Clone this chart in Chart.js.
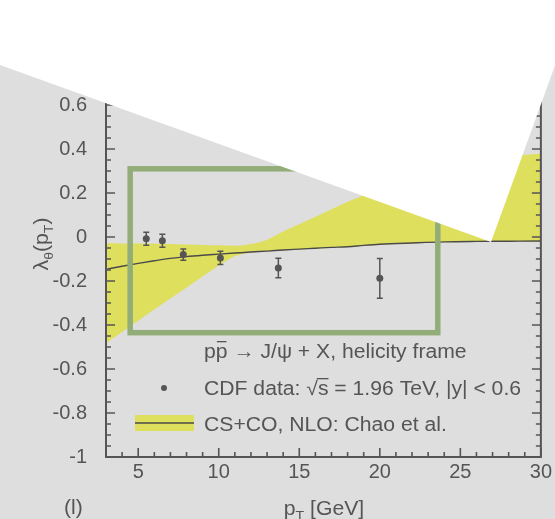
<!DOCTYPE html>
<html>
<head>
<meta charset="utf-8">
<script src="https://cdn.jsdelivr.net/npm/chart.js@4.4.1/dist/chart.umd.min.js"></script>
<style>
  html, body { margin: 0; padding: 0; background: #dedede; }
  canvas { display: block; }
</style>
</head>
<body>
<canvas id="myChart" width="555" height="519"></canvas>
<script>
// theory band (CS+CO, NLO: Chao et al.) sampled on a common pT grid
const bandX    = [3, 4, 5, 6, 7, 8, 9, 10, 11, 12, 13, 14, 15, 16, 17, 18, 19, 20, 22, 24, 26, 28, 30];
const curveY   = [-0.147, -0.133, -0.12, -0.108, -0.097, -0.089, -0.083, -0.078, -0.073, -0.068, -0.064, -0.059,
                  -0.055, -0.051, -0.047, -0.044, -0.038, -0.033, -0.027, -0.022, -0.02, -0.019, -0.018];
const bandLow  = [-0.483, -0.432, -0.381, -0.33, -0.28, -0.23, -0.18, -0.13, -0.088, -0.07, -0.066, -0.061,
                  -0.057, -0.053, -0.049, -0.046, -0.04, -0.035, -0.029, -0.024, -0.022, -0.021, -0.02];
const bandHigh = [-0.028, -0.029, -0.03, -0.031, -0.032, -0.034, -0.036, -0.038, -0.04, -0.032, -0.012, 0.025,
                  0.058, 0.092, 0.126, 0.16, 0.19, 0.22, 0.27, 0.31, 0.34, 0.365, 0.38];

// CDF data points
const cdfX   = [5.5, 6.5, 7.8, 10.1, 13.7, 20.0];
const cdfY   = [-0.008, -0.017, -0.08, -0.095, -0.141, -0.188];
const cdfErr = [0.03, 0.03, 0.026, 0.03, 0.044, 0.09];

const xTicks = [5, 10, 15, 20, 25, 30];
const yTicks = [-1, -0.8, -0.6, -0.4, -0.2, 0, 0.2, 0.4, 0.6];

// highlighted region (green frame), in data units
const boxX = [4.5, 23.6];
const boxY = [-0.435, 0.31];

const FONT = '"Liberation Sans", Arial, Helvetica, sans-serif';
const INK = '#555555';
const YELLOW = '#dfdf5e';
const GREEN = '#93ad79';
const BG = '#dedede';
const SX = 1.085; // text in the figure is slightly wide

const pts = (xs, ys) => xs.map((x, i) => ({x: x, y: ys[i]}));

function textWidth(ctx, parts) {
  let w = 0;
  for (const p of parts) {
    ctx.font = p.size + 'px ' + FONT;
    w += ctx.measureText(p.t).width;
  }
  return w;
}

// draws a run of text pieces (subscripts, overlines) with a horizontal stretch
function drawRuns(ctx, x, y, parts) {
  ctx.save();
  ctx.translate(x, y);
  ctx.scale(SX, 1);
  let cx = 0;
  for (const p of parts) {
    ctx.font = p.size + 'px ' + FONT;
    const w = ctx.measureText(p.t).width;
    ctx.fillText(p.t, cx, p.dy || 0);
    if (p.bar) ctx.fillRect(cx + p.bar[0], p.bar[1], w - p.bar[0] + (p.bar[2] || 0), 1.3);
    cx += w;
  }
  ctx.restore();
}

const decor = {
  id: 'decor',
  beforeDraw(chart) {
    const ctx = chart.ctx;
    ctx.save();
    ctx.fillStyle = BG;
    ctx.fillRect(0, 0, chart.width, chart.height);
    ctx.restore();
  },
  afterDatasetsDraw(chart) {
    const ctx = chart.ctx;
    const xs = chart.scales.x, ys = chart.scales.y;
    const a = chart.chartArea;
    ctx.save();

    // error bars
    ctx.strokeStyle = INK;
    ctx.lineWidth = 1.5;
    cdfX.forEach((x, i) => {
      const px = xs.getPixelForValue(x);
      const y1 = ys.getPixelForValue(cdfY[i] + cdfErr[i]);
      const y2 = ys.getPixelForValue(cdfY[i] - cdfErr[i]);
      ctx.beginPath();
      ctx.moveTo(px, y1); ctx.lineTo(px, y2);
      ctx.moveTo(px - 3, y1); ctx.lineTo(px + 3, y1);
      ctx.moveTo(px - 3, y2); ctx.lineTo(px + 3, y2);
      ctx.stroke();
    });

    // frame
    ctx.lineWidth = 2;
    ctx.beginPath();
    ctx.moveTo(a.left, a.top); ctx.lineTo(a.left, a.bottom);
    ctx.lineTo(a.right, a.bottom); ctx.lineTo(a.right, a.top);
    ctx.stroke();

    // inward ticks
    ctx.lineWidth = 1.6;
    ctx.beginPath();
    for (let k = -20; k <= 13; k++) {
      const py = ys.getPixelForValue(k * 0.05);
      const len = k % 4 === 0 ? 9 : 5;
      ctx.moveTo(a.left, py); ctx.lineTo(a.left + len, py);
      ctx.moveTo(a.right, py); ctx.lineTo(a.right - len, py);
    }
    for (let v = 3; v <= 30; v++) {
      const px = xs.getPixelForValue(v);
      const len = v % 5 === 0 ? 9 : 5;
      ctx.moveTo(px, a.bottom); ctx.lineTo(px, a.bottom - len);
    }
    ctx.stroke();

    // green frame
    ctx.strokeStyle = GREEN;
    ctx.lineWidth = 5.5;
    const bx1 = xs.getPixelForValue(boxX[0]), bx2 = xs.getPixelForValue(boxX[1]);
    const by1 = ys.getPixelForValue(boxY[1]), by2 = ys.getPixelForValue(boxY[0]);
    ctx.strokeRect(bx1, by1, bx2 - bx1, by2 - by1);
    ctx.restore();
  },
  afterDraw(chart) {
    const ctx = chart.ctx;
    ctx.save();

    // white torn-off area over the top of the figure
    ctx.fillStyle = '#ffffff';
    ctx.beginPath();
    ctx.moveTo(0, 0); ctx.lineTo(555, 0); ctx.lineTo(555, 65.5);
    ctx.lineTo(491, 242); ctx.lineTo(0, 65);
    ctx.closePath();
    ctx.fill();

    ctx.fillStyle = INK;
    ctx.textBaseline = 'alphabetic';

    // legend
    drawRuns(ctx, 204, 358, [
      {t: 'p', size: 19.5},
      {t: 'p', size: 19.5, bar: [1, -17, -1]},
      {t: ' \u2192 J/\u03c8 + X, helicity frame', size: 19.5}
    ]);
    ctx.beginPath();
    ctx.arc(164, 388, 3, 0, Math.PI * 2);
    ctx.fill();
    drawRuns(ctx, 204, 395, [
      {t: 'CDF data: \u221a', size: 19.5},
      {t: 's', size: 19.5, bar: [-1, -17, 0]},
      {t: ' = 1.96 TeV, |y| < 0.6', size: 19.5}
    ]);
    ctx.fillStyle = YELLOW;
    ctx.fillRect(135, 415, 59, 16);
    ctx.strokeStyle = '#4a4a4a';
    ctx.lineWidth = 1.4;
    ctx.beginPath();
    ctx.moveTo(135, 423); ctx.lineTo(194, 423);
    ctx.stroke();
    ctx.fillStyle = INK;
    drawRuns(ctx, 204, 430.5, [{t: 'CS+CO, NLO: Chao et al.', size: 19.5}]);

    // x axis title
    const xt = [{t: 'p', size: 19.5}, {t: 'T', size: 13, dy: 5}, {t: ' [GeV]', size: 19.5}];
    drawRuns(ctx, 324 - textWidth(ctx, xt) * SX / 2, 515, xt);
    drawRuns(ctx, 64, 514, [{t: '(l)', size: 19.5}]);

    // y axis title
    const yt = [{t: '\u03bb', size: 19.5}, {t: '\u03b8', size: 13, dy: 5},
                {t: '(p', size: 19.5}, {t: 'T', size: 13, dy: 5}, {t: ')', size: 19.5}];
    ctx.save();
    ctx.translate(48, 244);
    ctx.rotate(-Math.PI / 2);
    drawRuns(ctx, -textWidth(ctx, yt) * SX / 2, 0, yt);
    ctx.restore();

    ctx.restore();
  }
};

const ctx = document.getElementById('myChart');

const data = {
  datasets: [
    {
      label: 'CDF data',
      data: pts(cdfX, cdfY),
      showLine: false,
      pointRadius: 3.5,
      pointBackgroundColor: INK,
      pointBorderWidth: 0
    },
    {
      label: 'CS+CO, NLO',
      data: pts(bandX, curveY),
      borderColor: '#4a4a4a',
      borderWidth: 1.4,
      pointRadius: 0,
      cubicInterpolationMode: 'monotone',
      fill: false
    },
    {
      label: 'band low',
      data: pts(bandX, bandLow),
      borderColor: 'rgba(0,0,0,0)',
      pointRadius: 0,
      cubicInterpolationMode: 'monotone',
      fill: false
    },
    {
      label: 'band high',
      data: pts(bandX, bandHigh),
      borderColor: 'rgba(0,0,0,0)',
      backgroundColor: YELLOW,
      pointRadius: 0,
      cubicInterpolationMode: 'monotone',
      fill: '-1'
    }
  ]
};

new Chart(ctx, {
  type: 'line',
  data: data,
  options: {
    responsive: false,
    animation: false,
    layout: { padding: { top: 94, right: 12, left: 0, bottom: 0 } },
    plugins: { legend: { display: false }, tooltip: { enabled: false } },
    scales: {
      x: {
        type: 'linear',
        min: 3,
        max: 30,
        afterBuildTicks: s => { s.ticks = xTicks.map(v => ({value: v})); },
        afterFit: s => { s.height = 62; },
        grid: { display: false, drawTicks: false },
        border: { display: false },
        ticks: {
          color: INK, padding: 3, maxRotation: 0, autoSkip: false,
          font: { family: FONT, size: 20 },
          callback: v => String(v)
        }
      },
      y: {
        type: 'linear',
        min: -1,
        max: 0.65,
        afterBuildTicks: s => { s.ticks = yTicks.map(v => ({value: v})); },
        afterFit: s => { s.width = 106; },
        grid: { display: false, drawTicks: false },
        border: { display: false },
        ticks: {
          color: INK, padding: 19, autoSkip: false,
          font: { family: FONT, size: 20 },
          callback: v => String(Math.round(v * 10) / 10)
        }
      }
    }
  },
  plugins: [decor]
});
</script>
</body>
</html>
